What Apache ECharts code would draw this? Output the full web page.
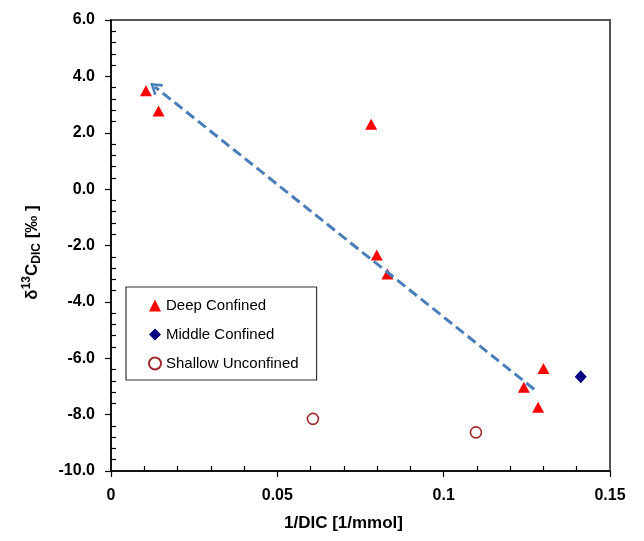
<!DOCTYPE html>
<html>
<head>
<meta charset="utf-8">
<script src="https://cdn.jsdelivr.net/npm/echarts@6/dist/echarts.min.js"></script>
<style>html,body{margin:0;padding:0;background:#fff}#c{width:644px;height:541px}</style>
</head>
<body>
<div id="c"></div>
<script>
// Data
var deepX = [0.0105, 0.0143, 0.0782, 0.0799, 0.0831, 0.1241, 0.1284, 0.1300];
var deepY = [3.49, 2.77, 2.30, -2.34, -3.01, -7.03, -7.74, -6.36];
var middleX = [0.1412];
var middleY = [-6.66];
var shallowX = [0.0607, 0.1097];
var shallowY = [-8.15, -8.63];
var arrowX = [0.1272, 0.0132];   // tail, head
var arrowY = [-7.10, 3.63];
var xTicks = [0, 0.05, 0.1, 0.15];
var yTicks = [-10, -8, -6, -4, -2, 0, 2, 4, 6];
var legendNames = ['Deep Confined', 'Middle Confined', 'Shallow Unconfined'];

function pairs(xs, ys) { return xs.map(function (x, i) { return [x, ys[i]]; }); }

var chart = echarts.init(document.getElementById('c'), null, {renderer: 'canvas'});
var font = '"Liberation Sans", Arial, sans-serif';
var axisCommon = {
  axisLine: {show: true, onZero: false, lineStyle: {color: '#000', width: 1.5}},
  axisTick: {show: true, inside: false, length: 6, lineStyle: {color: '#000', width: 1.2}},
  minorTick: {show: true, splitNumber: 5, length: -5, lineStyle: {color: '#000', width: 1.2}},
  splitLine: {show: false},
  minorSplitLine: {show: false}
};
chart.setOption({
  animation: false,
  textStyle: {fontFamily: font},
  grid: {left: 111, top: 20, width: 499, height: 451, show: true, borderColor: '#555', borderWidth: 2, backgroundColor: 'transparent'},
  xAxis: Object.assign({
    type: 'value', min: xTicks[0], max: xTicks[xTicks.length - 1], interval: 0.05,
    name: '1/DIC [1/mmol]', nameLocation: 'middle', nameGap: 44,
    nameTextStyle: {fontFamily: font, fontWeight: 'bold', fontSize: 17, color: '#000', padding: [0, 34, 0, 0]},
    axisLabel: {fontFamily: font, fontWeight: 'bold', fontSize: 16, color: '#000', margin: 17,
      formatter: function (v) { return String(Math.round(v * 100) / 100); }}
  }, axisCommon),
  yAxis: Object.assign({
    type: 'value', min: yTicks[0], max: yTicks[yTicks.length - 1], interval: 2,
    name: '{d|δ}{sup|13}{c|C}{sub|DIC}{d| [‰ ]}', nameLocation: 'middle', nameGap: 68, nameRotate: 90,
    nameTextStyle: {fontFamily: font, fontWeight: 'bold', fontSize: 17, color: '#000', padding: [0, 14, 0, 0],
      rich: {
        d: {fontFamily: font, fontWeight: 'bold', fontSize: 17, color: '#000', lineHeight: 22, verticalAlign: 'middle'},
        c: {fontFamily: font, fontWeight: 'bold', fontSize: 17, color: '#000', lineHeight: 22, verticalAlign: 'middle'},
        sup: {fontFamily: font, fontWeight: 'bold', fontSize: 12, color: '#000', lineHeight: 22, verticalAlign: 'top'},
        sub: {fontFamily: font, fontWeight: 'bold', fontSize: 12, color: '#000', lineHeight: 22, verticalAlign: 'bottom', padding: [6, 0, 0, 0]}
      }},
    axisLabel: {fontFamily: font, fontWeight: 'bold', fontSize: 16, color: '#000', margin: 16,
      formatter: function (v) { return v.toFixed(1); }}
  }, axisCommon),
  legend: {
    orient: 'vertical', left: 126, top: 287,
    data: [
      {name: legendNames[0], icon: 'triangle'},
      {name: legendNames[1], icon: 'diamond'},
      {name: legendNames[2], icon: 'circle'}
    ],
    itemWidth: 12, itemHeight: 12, itemGap: 14,
    padding: [11, 18, 9, 22],
    borderColor: '#333', borderWidth: 1.2, backgroundColor: '#fff',
    textStyle: {fontFamily: font, fontSize: 15, color: '#000'}
  },
  series: [
    {
      name: legendNames[0], type: 'scatter', symbol: 'triangle', symbolSize: [12, 11], z: 3,
      itemStyle: {color: '#FF0000', opacity: 1},
      data: pairs(deepX, deepY),
      markLine: {
        silent: true, animation: false,
        symbol: ['none', 'path://M5,0 L10,8 L8.5,9.2 L5,3.4 L1.5,9.2 L0,8 Z'],
        symbolSize: [14, 12],
        label: {show: false},
        lineStyle: {color: '#4A7EBB', width: 3, type: [10, 5], opacity: 1},
        emphasis: {disabled: true},
        data: [[{coord: [arrowX[0], arrowY[0]]}, {coord: [arrowX[1], arrowY[1]]}]]
      }
    },
    {
      name: legendNames[1], type: 'scatter', symbol: 'diamond', symbolSize: [12, 13], z: 3,
      itemStyle: {color: '#000080', opacity: 1},
      data: pairs(middleX, middleY)
    },
    {
      name: legendNames[2], type: 'scatter', symbol: 'circle', symbolSize: 11, z: 3,
      itemStyle: {color: '#FFFFFF', borderColor: '#A0282D', borderWidth: 1.6, opacity: 1},
      data: pairs(shallowX, shallowY)
    }
  ]
});
</script>
</body>
</html>
